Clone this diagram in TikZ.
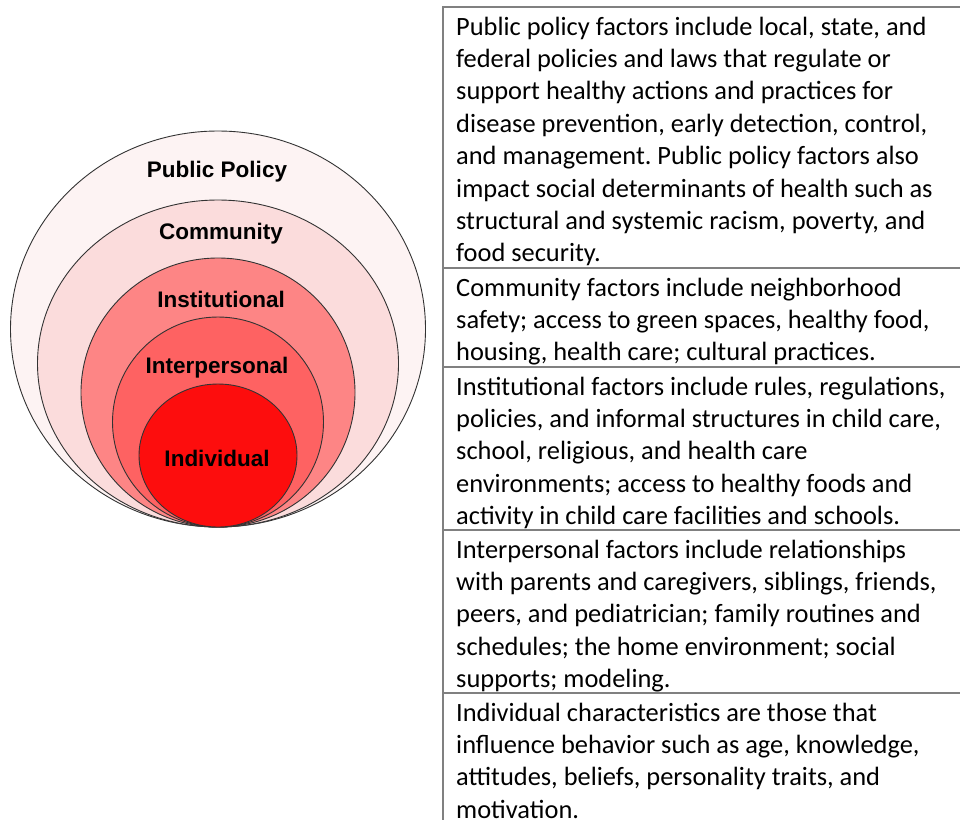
\documentclass[tikz,border=0pt]{standalone}
\usepackage{fontspec}
\setmainfont{Carlito}
\newfontfamily\ringfont{Liberation Sans}
\usetikzlibrary{positioning}
\frenchspacing
\definecolor{policyfill}{HTML}{FDF3F3}
\definecolor{communityfill}{HTML}{FBDCDC}
\definecolor{institutionfill}{HTML}{FD8585}
\definecolor{interfill}{HTML}{FE6262}
\definecolor{individualfill}{HTML}{FD0D0D}
\tikzset{ring/.style = {draw=black!80, line width = 0.9},
  ringlabel/.style = {font = \ringfont\bfseries\fontsize{22.5}{27}\selectfont, anchor = base, inner sep = 0},
  rowtext/.style = {anchor = base west, inner sep = 0, align = left, font = \fontsize{26.4}{32.4}\selectfont},
  tablerule/.style = {draw = black!50, line width = 1.3}}

\begin{document}
\begin{tikzpicture}[x=1pt,y=1pt]
    \useasboundingbox (0,0) rectangle (960,-820);
    % nested levels, all touching at the bottom point
    \foreach \cy/\rx/\ry/\col in {329/207.5/198/policyfill, 363.5/180.5/163.5/communityfill,
        392.5/137/134.5/institutionfill, 422/105.5/105/interfill, 455.5/79/71.5/individualfill} {
        \filldraw[ring, fill=\col] (218,-\cy) ellipse [x radius=\rx, y radius=\ry];
    }
    \node[ringlabel] (policy) at (217,-177) {Public Policy};
    \node[ringlabel] (community) at (221,-239) {Community};
    \node[ringlabel] (institutional) at (221,-307) {Institutional};
    \node[ringlabel] (interpersonal) at (217,-373) {Interpersonal};
    \node[ringlabel] (individual) at (217,-466) {Individual};

    % table frame
    \coordinate (tabtop) at (443,-7);
    \coordinate (tabbot) at (443,-820);
    \draw[tablerule] (960,-7) -- (tabtop) -- (tabbot);
    \foreach \y in {268, 367, 530, 693} {
        \draw[tablerule] (443,-\y) -- (960,-\y);
    }

    % rows sit on the baseline of their last line
    \node[rowtext] (policytext) at (456,-261.8) {Public policy factors include local, state, and\\
        federal policies and laws that regulate or\\
        support healthy actions and practices for\\
        disease prevention, early detection, control,\\
        and management. Public policy factors also\\
        impact social determinants of health such as\\
        structural and systemic racism, poverty, and\\
        food security.};
    \node[rowtext] (communitytext) at (456,-360.8) {Community factors include neighborhood\\
        safety; access to green spaces, healthy food,\\
        housing, health care; cultural practices.};
    \node[rowtext] (institutionaltext) at (456,-524.6) {Institutional factors include rules, regulations,\\
        policies, and informal structures in child care,\\
        school, religious, and health care\\
        environments; access to healthy foods and\\
        activity in child care facilities and schools.};
    \node[rowtext] (interpersonaltext) at (456,-687.6) {Interpersonal factors include relationships\\
        with parents and caregivers, siblings, friends,\\
        peers, and pediatrician; family routines and\\
        schedules; the home environment; social\\
        supports; modeling.};
    \node[rowtext] (individualtext) at (456,-818.2) {Individual characteristics are those that\\
        influence behavior such as age, knowledge,\\
        attitudes, beliefs, personality traits, and\\
        motivation.};
\end{tikzpicture}
\end{document}
